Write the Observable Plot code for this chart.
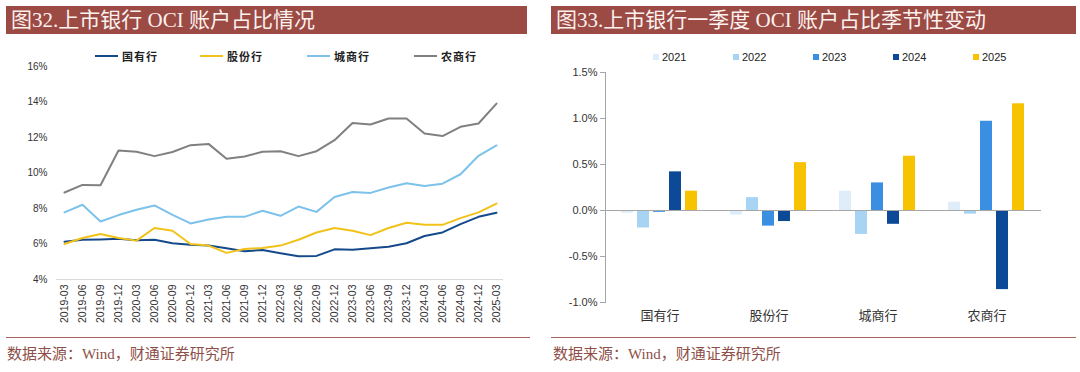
<!DOCTYPE html>
<html><head><meta charset="utf-8">
<script src="https://cdn.jsdelivr.net/npm/d3@7"></script>
<script src="https://cdn.jsdelivr.net/npm/@observablehq/plot@0.6"></script>
<style>
body{margin:0;background:#fff;width:1080px;height:372px;position:relative;overflow:hidden;font-family:"Liberation Sans","Noto Sans CJK SC",sans-serif;}
.title{position:absolute;top:6px;height:28px;background:#9c4a44;color:#fbf1ef;font-family:"Liberation Serif","Noto Sans CJK SC",serif;font-size:21px;line-height:28px;padding-left:5px;box-sizing:border-box;white-space:nowrap;}
.rule{position:absolute;top:337px;height:0;border-top:1.5px solid #a8655e;}
.source{position:absolute;top:344px;font-family:"Liberation Serif","Noto Sans CJK SC",serif;font-size:15px;line-height:20px;color:#8e4f49;white-space:nowrap;}
.item{position:absolute;display:flex;align-items:center;height:16px;white-space:nowrap;font-size:11px;color:#222;z-index:2;}
.chart{position:absolute;top:50px;}
</style></head>
<body>
<div class="title" style="left:6px;width:521px;">图32.上市银行 OCI 账户占比情况</div>
<div class="title" style="left:551px;width:525px;">图33.上市银行一季度 OCI 账户占比季节性变动</div>
<div id="legL"></div>
<div id="legR"></div>
<div class="chart" id="left" style="left:0px;"></div>
<div class="chart" id="right" style="left:540px;"></div>
<div class="rule" style="left:6px;width:524px;"></div>
<div class="rule" style="left:551px;width:525px;"></div>
<div class="source" style="left:7px;">数据来源：Wind，财通证券研究所</div>
<div class="source" style="left:553px;">数据来源：Wind，财通证券研究所</div>
<script>
// ---- Left chart data (OCI share, %) ----
const quarters = ["2019-03","2019-06","2019-09","2019-12","2020-03","2020-06","2020-09","2020-12",
  "2021-03","2021-06","2021-09","2021-12","2022-03","2022-06","2022-09","2022-12",
  "2023-03","2023-06","2023-09","2023-12","2024-03","2024-06","2024-09","2024-12","2025-03"];
const banks = ["国有行","股份行","城商行","农商行"];
const stateOwned = [6.13,6.24,6.26,6.30,6.21,6.24,6.04,5.96,5.91,5.76,5.59,5.66,5.48,5.31,5.33,5.70,5.68,5.76,5.85,6.04,6.45,6.65,7.12,7.53,7.76];
const jointStock = [6.00,6.34,6.56,6.34,6.19,6.90,6.75,6.00,5.91,5.50,5.72,5.78,5.91,6.24,6.65,6.90,6.75,6.50,6.90,7.20,7.08,7.08,7.46,7.78,8.28];
const cityComm   = [7.78,8.21,7.27,7.63,7.93,8.17,7.64,7.16,7.38,7.53,7.53,7.87,7.59,8.11,7.81,8.65,8.93,8.88,9.18,9.42,9.27,9.40,9.93,10.97,11.55];
const ruralComm  = [8.90,9.33,9.31,11.27,11.20,10.95,11.18,11.57,11.64,10.80,10.93,11.20,11.23,10.95,11.23,11.85,12.82,12.73,13.07,13.07,12.23,12.08,12.60,12.79,13.91];
const lineColors = ["#154a8a","#f2c21b","#7cc2ea","#808080"];
const yTicksL = [4,6,8,10,12,14,16];

// ---- Right chart data (Q1 change, %) ----
const years = ["2021","2022","2023","2024","2025"];
const v2021 = [-0.03,-0.05,0.21,0.09];
const v2022 = [-0.19,0.14,-0.26,-0.04];
const v2023 = [-0.02,-0.17,0.30,0.97];
const v2024 = [0.42,-0.12,-0.15,-0.86];
const v2025 = [0.21,0.52,0.59,1.16];
const barColors = ["#deedf9","#a8d4f4","#3a8fe3","#0c4997","#f7c300"];
const yTicksR = [-1,-0.5,0,0.5,1,1.5];

// build tables
const series = [stateOwned, jointStock, cityComm, ruralComm];
const lineRows = [];
banks.forEach((b,i)=>series[i].forEach((v,j)=>lineRows.push({bank:b,q:quarters[j],v})));
const yearVals = [v2021,v2022,v2023,v2024,v2025];
const barRows = [];
years.forEach((y,i)=>banks.forEach((b,j)=>barRows.push({bank:b,year:y,value:yearVals[i][j]})));

// legends
const legL = document.getElementById("legL");
const legLX = [95,200,307,414];
banks.forEach((b,i)=>{
  const d=document.createElement("div");d.className="item";
  d.style.left=legLX[i]+"px";d.style.top="48px";
  d.innerHTML=`<span style="display:inline-block;width:23px;height:2px;background:${lineColors[i]};margin-right:4px"></span><span style="letter-spacing:1px;font-weight:bold">${b}</span>`;
  legL.appendChild(d);
});
const legR = document.getElementById("legR");
const legRX = [653,733,813,893,973];
years.forEach((y,i)=>{
  const d=document.createElement("div");d.className="item";
  d.style.left=legRX[i]+"px";d.style.top="49px";
  d.innerHTML=`<span style="display:inline-block;width:6px;height:6px;background:${barColors[i]};margin-right:3px"></span><span>${y}</span>`;
  legR.appendChild(d);
});

const font = "Liberation Sans, Noto Sans CJK SC, sans-serif";

const left = Plot.plot({
  width:530, height:280, marginTop:16, marginBottom:51, marginLeft:56, marginRight:27,
  style:{fontFamily:font, fontSize:"10px", color:"#333", background:"transparent"},
  x:{type:"point", domain:quarters, padding:0, label:null},
  y:{domain:[4,16], label:null},
  color:{domain:banks, range:lineColors},
  marks:[
    Plot.ruleY([4],{stroke:"#d9d9d9"}),
    Plot.axisX({tickRotate:-90, tickSize:0, tickPadding:5, fontSize:10.5, label:null}),
    Plot.axisY({ticks:yTicksL, tickFormat:d=>d+"%", tickSize:0, tickPadding:9, label:null}),
    Plot.line(lineRows,{x:"q", y:"v", z:"bank", stroke:"bank", strokeWidth:2})
  ]
});
document.getElementById("left").appendChild(left);

const right = Plot.plot({
  width:510, height:280, marginTop:22, marginBottom:28, marginLeft:64, marginRight:8,
  style:{fontFamily:font, fontSize:"11px", color:"#333", background:"transparent"},
  fx:{domain:banks, padding:0, label:null},
  x:{domain:years, paddingInner:0.226, paddingOuter:0.87, axis:null},
  y:{domain:[-1,1.5], label:null},
  color:{domain:years, range:barColors},
  marks:[
    Plot.barY(barRows,{fx:"bank", x:"year", y:"value", fill:"year"}),
    Plot.ruleY([0],{stroke:"#a6a6a6"}),
    Plot.axisFx({anchor:"bottom", tickSize:0, tickPadding:8, fontSize:13, label:null}),
    Plot.axisY({ticks:yTicksR, tickFormat:d=>d.toFixed(1)+"%", tickSize:5, tickPadding:3, stroke:"#a6a6a6", label:null}),
    Plot.frame({anchor:"left", stroke:"#a6a6a6", fx: () => banks[0]})
  ]
});
document.getElementById("right").appendChild(right);
</script>
</body></html>
